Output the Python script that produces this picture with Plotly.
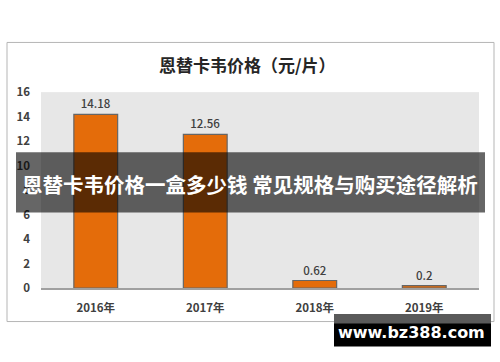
import plotly.graph_objects as go

categories = ["2016年", "2017年", "2018年", "2019年"]
prices = [14.18, 12.56, 0.62, 0.2]
price_labels = ["14.18", "12.56", "0.62", "0.2"]
y_ticks = [0, 2, 4, 6, 8, 10, 12, 14, 16]

W, H = 500, 362
def px(x): return x / W
def py(y): return 1 - y / H

FONT = "Noto Sans CJK SC"

fig = go.Figure()
fig.add_trace(go.Bar(
    x=categories, y=prices,
    text=price_labels, textposition="outside",
    textfont=dict(size=11.5, color="#404040", family=FONT, weight=500),
    marker=dict(color="#E46C0A", line=dict(color="#666666", width=1.2)),
    width=0.4, cliponaxis=False,
))

fig.update_layout(
    width=W, height=H,
    margin=dict(l=0, r=0, t=0, b=0),
    paper_bgcolor="white", plot_bgcolor="#e7e7e7",
    showlegend=False,
    xaxis=dict(domain=[px(41), px(479)], showgrid=False, showline=True,
               linecolor="#a0a0a0", linewidth=1.5, ticks="", ticklabelstandoff=8,
               tickfont=dict(size=11.5, color="#404040", family=FONT, weight=600)),
    yaxis=dict(domain=[py(292), py(87)], range=[0, 16], tickvals=y_ticks,
               showgrid=False, zeroline=False, showline=False, ticks="",
               ticklabelstandoff=10,
               tickfont=dict(size=11.5, color="#404040", family=FONT, weight=600)),
    font=dict(family=FONT),
)

shapes = [
    dict(type="rect", xref="paper", yref="paper",
         x0=px(7), x1=px(494), y0=py(327), y1=py(35),
         line=dict(color="#b5b5b5", width=1), fillcolor="rgba(0,0,0,0)", layer="below"),
    dict(type="rect", xref="paper", yref="paper",
         x0=px(16), x1=px(485), y0=py(213), y1=py(150),
         line=dict(width=0), fillcolor="rgba(0,0,0,0.6)", layer="above"),
    dict(type="rect", xref="paper", yref="paper",
         x0=px(334), x1=px(491), y0=py(353), y1=py(319),
         line=dict(width=0), fillcolor="#000000", layer="above"),
    dict(type="rect", xref="paper", yref="paper",
         x0=px(334), x1=px(491), y0=py(329), y1=py(319),
         line=dict(width=0), fillcolor="#5a5a5a", layer="above"),
]
fig.update_layout(shapes=shapes)

common = dict(xref="paper", yref="paper", showarrow=False, xanchor="center", yanchor="middle")
fig.add_annotation(text="<b>恩替卡韦价格（元/片）</b>", x=px(247), y=py(58),
                   font=dict(size=17, color="#262626", family=FONT), **common)
fig.add_annotation(text="<b>恩替卡韦价格一盒多少钱 常见规格与购买途径解析</b>",
                   x=px(250), y=py(183),
                   font=dict(size=20.5, color="white", family=FONT), **common)
fig.add_annotation(text="<b>www.bz388.com</b>", x=px(411), y=py(338),
                   font=dict(size=16, color="white", family="DejaVu Sans"), **common)

fig.write_html("out.html")
